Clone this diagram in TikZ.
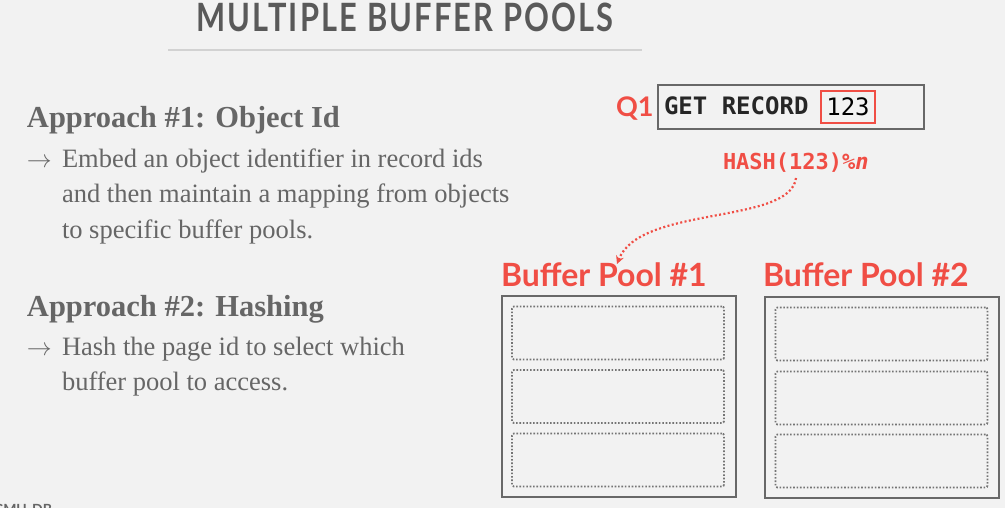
\documentclass[tikz,border=0pt]{standalone}
\usepackage{fontspec}
\setmainfont{Liberation Serif}
\newfontfamily\titlefont[LetterSpace=7]{Lato}
\newfontfamily\headfont{Lato}
\newfontfamily\codefont{DejaVu Sans Mono}
\usetikzlibrary{arrows.meta}
\definecolor{bg}{HTML}{F2F2F2}
\definecolor{titlegray}{HTML}{595959}
\definecolor{textgray}{HTML}{666666}
\definecolor{rulegray}{HTML}{D2D2D2}
\definecolor{boxgray}{HTML}{686868}
\definecolor{slotgray}{HTML}{747474}
\definecolor{cmured}{HTML}{F04E45}
\tikzset{
  txt/.style={anchor=base west, inner sep=0pt, outer sep=0pt},
  heading/.style={txt, text=textgray, font=\fontsize{30.5}{34}\selectfont\bfseries},
  body/.style={txt, text=textgray, font=\fontsize{26.5}{30}\selectfont},
  poolbox/.style={draw=boxgray, line width=2.8pt, minimum width=234pt, minimum height=201pt, inner sep=0pt},
  slot/.style={draw=slotgray, line width=1.8pt, dash pattern=on 1.6pt off 1.8pt, rounded corners=2pt, minimum width=212pt, minimum height=53pt, inner sep=0pt},
  poollabel/.style={txt, text=cmured, font=\headfont\fontsize{32}{36}\selectfont\bfseries},
}
\begin{document}
\begin{tikzpicture}[x=1pt,y=-1pt]
\useasboundingbox[fill=bg] (0,0) rectangle (1005,508);
% title
\node[anchor=base, inner sep=0pt, text=titlegray, font=\titlefont\fontsize{39}{44}\selectfont\bfseries] (title) at (405,32) {\scalebox{0.79}[1]{MULTIPLE BUFFER POOLS}};
\draw[rulegray, line width=2pt] (168,50) -- (642,50);
% left text
\node[heading] (h1) at (27,128) {Approach \#1: Object Id};
\node[body] (a1) at (27,168) {$\rightarrow$};
\node[body] (b1) at (62,168) {Embed an object identifier in record ids};
\node[body] (b2) at (62,203) {and then maintain a mapping from objects};
\node[body] (b3) at (62,238) {to specific buffer pools.};
\node[heading] (h2) at (27,316) {Approach \#2: Hashing};
\node[body] (a2) at (27,355) {$\rightarrow$};
\node[body] (c1) at (62,355) {Hash the page id to select which};
\node[body] (c2) at (62,390) {buffer pool to access.};
% query
\node[txt, text=cmured, font=\headfont\fontsize{27}{30}\selectfont\bfseries] (q1) at (616,117) {Q1};
\node[draw=boxgray, line width=2pt, minimum width=266pt, minimum height=44pt, inner sep=0pt] (qbox) at (791,107) {};
\node[txt, text=black!85, font=\codefont\fontsize{24}{28}\selectfont\bfseries] (get) at (664,115) {GET RECORD};
\node[draw=cmured, line width=1.5pt, minimum width=54pt, minimum height=32pt, inner sep=0pt, font=\codefont\fontsize{24}{28}\selectfont, text=black] (rid) at (848,107) {123};
\node[txt, text=cmured, font=\codefont\fontsize{22}{26}\selectfont\bfseries] (hash) at (723,170) {HASH(123)\%\textit{n}};
\coordinate (hs) at (796,178);
\coordinate (he) at (617,264);
\draw[cmured, line width=2.2pt, dash pattern=on 2pt off 2.4pt, -{Stealth[length=8pt,width=8pt]}] (hs) .. controls (790,225) and (640,205) .. (he);
% pools
\node[poollabel] (l1) at (501,286) {Buffer Pool \#1};
\node[poollabel] (l2) at (763,286) {Buffer Pool \#2};
\node[poolbox] (p1) at (619,396.5) {};
\node[poolbox] (p2) at (882,397.5) {};
\node[slot] (s11) at (618,333) {};
\node[slot] (s12) at (618,396.5) {};
\node[slot] (s13) at (618,460) {};
\node[slot] (s21) at (881.5,334) {};
\node[slot] (s22) at (881.5,398) {};
\node[slot] (s23) at (881.5,461) {};
% logo fragment
\node[txt, text=textgray, font=\headfont\fontsize{14}{16}\selectfont\bfseries] (logo) at (-6,514) {CMU-DB};
\end{tikzpicture}
\end{document}
